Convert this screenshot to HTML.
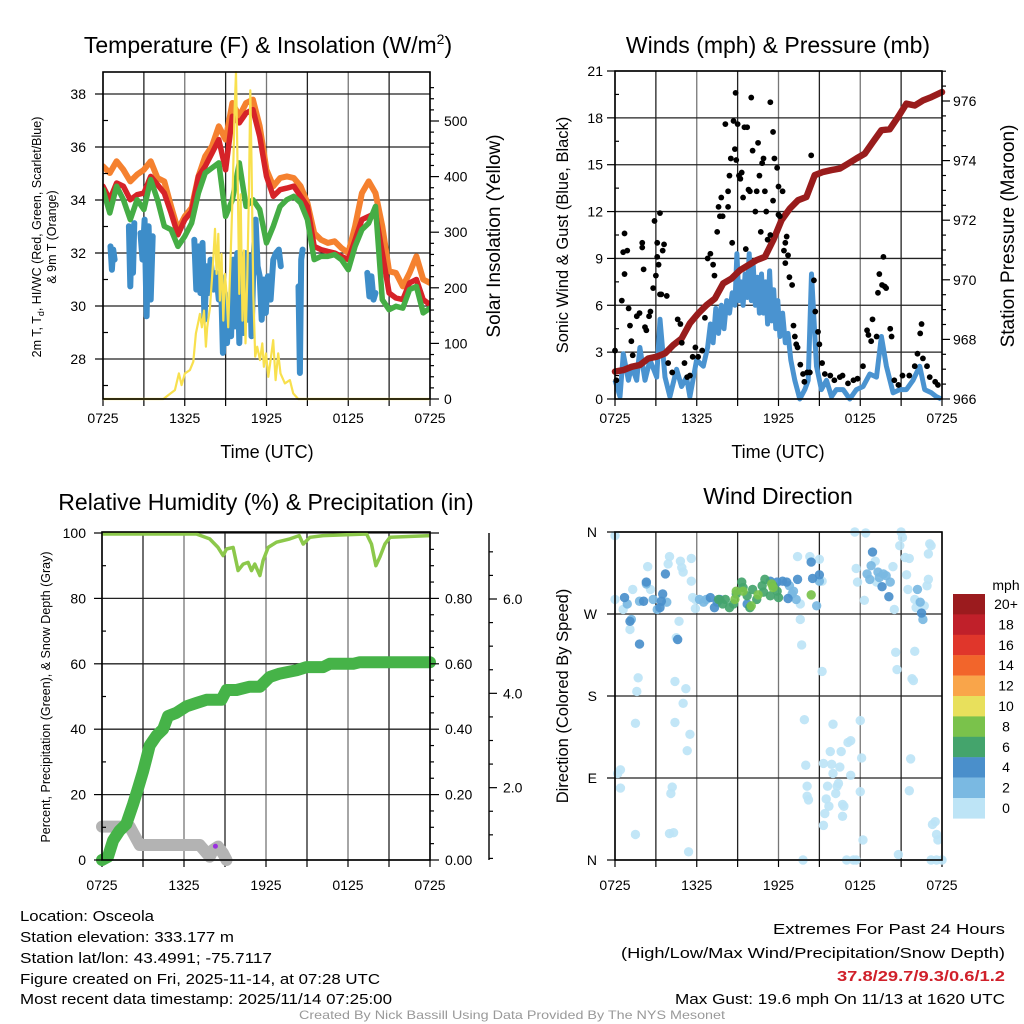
<!DOCTYPE html>
<html><head><meta charset="utf-8"><style>
html,body{margin:0;padding:0;background:#fff;}
svg{display:block;font-family:"Liberation Sans",Arial,sans-serif;}
</style></head><body>
<svg id="fig" width="1024" height="1024" viewBox="0 0 1024 1024" xmlns="http://www.w3.org/2000/svg">
<rect width="1024" height="1024" fill="#fff"/>
<g id="p1"></g>
<g id="p2"></g>
<g id="p3"></g>
<g id="p4"></g>
<g font-size="23" text-anchor="middle" fill="#000">
<text x="268" y="53">Temperature (F) &amp; Insolation (W/m<tspan font-size="14" dy="-9">2</tspan><tspan dy="9">)</tspan></text>
<text x="778" y="53">Winds (mph) &amp; Pressure (mb)</text>
<text x="266" y="510">Relative Humidity (%) &amp; Precipitation (in)</text>
<text x="778" y="504">Wind Direction</text>
</g>
<g font-size="15" fill="#000">
<text x="20" y="921" textLength="134" lengthAdjust="spacingAndGlyphs">Location: Osceola</text>
<text x="20" y="942" textLength="214" lengthAdjust="spacingAndGlyphs">Station elevation: 333.177 m</text>
<text x="20" y="963" textLength="252" lengthAdjust="spacingAndGlyphs">Station lat/lon: 43.4991; -75.7117</text>
<text x="20" y="984" textLength="360" lengthAdjust="spacingAndGlyphs">Figure created on Fri, 2025-11-14, at 07:28 UTC</text>
<text x="20" y="1004" textLength="372" lengthAdjust="spacingAndGlyphs">Most recent data timestamp: 2025/11/14 07:25:00</text>
</g>
<g font-size="15" fill="#000" text-anchor="end">
<text x="1005" y="934" textLength="232" lengthAdjust="spacingAndGlyphs">Extremes For Past 24 Hours</text>
<text x="1005" y="958" textLength="384" lengthAdjust="spacingAndGlyphs">(High/Low/Max Wind/Precipitation/Snow Depth)</text>
<text x="1005" y="981" fill="#d0202a" font-weight="bold" textLength="168" lengthAdjust="spacingAndGlyphs">37.8/29.7/9.3/0.6/1.2</text>
<text x="1005" y="1004" textLength="330" lengthAdjust="spacingAndGlyphs">Max Gust: 19.6 mph On 11/13 at 1620 UTC</text>
</g>
<text x="512" y="1019" font-size="12" fill="#999" text-anchor="middle" textLength="426" lengthAdjust="spacingAndGlyphs">Created By Nick Bassill Using Data Provided By The NYS Mesonet</text>
</svg>
<script>
// ---------- DATA ----------
const xTickLabels = ["0725","1325","1925","0125","0725"];
const halfHours = [0,0.5,1,1.5,2,2.5,3,3.5,4,4.5,5,5.5,6,6.5,7,7.5,8,8.5,9,9.5,10,10.5,11,11.5,12,12.5,13,13.5,14,14.5,15,15.5,16,16.5,17,17.5,18,18.5,19,19.5,20,20.5,21,21.5,22,22.5,23,23.5,24];
const temp9m = [35.27,35.02,35.46,35.14,34.70,34.96,35.14,35.46,34.83,34.70,33.76,32.88,33.38,33.70,34.89,35.65,36.03,36.78,36.28,37.66,37.16,37.66,37.79,36.78,35.14,34.52,34.83,34.89,34.83,34.52,33.89,32.75,32.50,32.38,32.44,32.19,32.00,33.01,34.26,34.70,34.26,33.01,31.31,31.25,30.74,31.25,31.87,31.00,30.87];
const temp2m = [34.52,34.01,34.64,34.52,34.01,34.20,34.26,34.89,34.58,34.26,33.51,32.69,33.26,33.57,34.89,35.27,35.77,36.28,35.14,37.16,36.91,37.28,37.41,36.40,34.89,34.14,34.39,34.45,34.52,34.14,33.76,32.25,32.13,32.06,32.00,31.87,31.75,32.50,33.26,33.38,33.51,32.00,30.49,30.30,30.24,30.87,31.00,30.24,30.05];
const dewpoint = [34.39,33.51,34.52,34.01,33.26,34.01,33.64,34.77,34.01,33.01,32.88,32.25,32.63,33.13,34.26,35.02,35.21,35.40,33.38,34.01,35.40,33.76,34.01,33.64,32.38,33.01,33.76,34.01,34.14,33.89,33.26,31.75,31.87,31.87,31.94,31.75,31.37,32.25,32.88,33.13,33.76,30.24,29.86,29.99,29.92,30.62,30.74,29.74,29.92];
const windChillHours = [0.55,0.65,0.75,0.85,null,1.9,2.0,2.1,2.2,2.3,null,2.75,2.9,3.05,3.2,3.35,3.5,3.65,null,6.7,6.85,7.0,7.15,7.3,7.45,7.6,7.75,7.9,8.1,8.3,8.5,8.65,8.8,8.95,9.1,9.25,9.4,9.55,9.7,9.85,10.0,10.15,10.3,10.45,10.6,10.75,10.9,11.05,11.2,11.35,11.5,11.65,11.8,11.95,12.1,12.3,12.5,12.7,12.9,13.05,null,14.35,14.45,14.55,14.65,null,19.4,19.55,19.7,19.85,20.0];
const windChill = [32.25,31.37,32.13,31.75,null,33.01,30.74,32.75,31.25,33.13,null,32.75,31.75,33.26,29.61,33.01,30.24,32.63,null,32.50,30.62,32.25,30.49,32.38,29.48,31.50,30.49,31.75,30.62,31.25,30.24,31.12,28.23,30.49,28.60,29.74,28.86,31.75,29.23,32.0,28.60,31.87,28.98,32.0,29.48,31.87,28.86,31.75,33.26,31.50,31.12,29.48,31.0,29.74,31.12,30.24,31.75,32.0,32.13,31.5,null,30.74,27.47,31.75,32.13,null,31.25,30.36,31.12,30.24,30.49];
const solarHours = [0,4.43,4.79,5.28,5.57,5.77,6.01,6.38,6.63,6.82,7.02,7.11,7.26,7.41,7.55,7.65,7.85,8.09,8.22,8.34,8.46,8.58,8.70,8.83,8.95,9.07,9.19,9.36,9.51,9.66,9.76,9.85,10.0,10.1,10.24,10.34,10.46,10.59,10.71,10.81,10.90,11.03,11.17,11.32,11.52,11.69,11.81,11.96,12.13,12.30,12.49,12.67,12.86,13.03,13.35,13.72,13.96,14.33,24];
const solar = [0,0,7,16,46,25,46,52,67,118,141,153,129,159,94,129,165,249,306,225,297,177,261,141,225,189,129,249,368,519,588,459,189,368,141,267,100,219,368,555,429,189,76,94,70,100,58,82,40,70,106,34,82,46,28,34,10,0,0];

const pressHours = [0,0.61,1.22,1.83,2.44,3.06,3.67,4.28,4.89,5.50,6.11,6.72,7.33,7.94,8.55,9.17,9.78,10.39,11.0,11.61,12.22,12.83,13.44,14.05,14.66,15.28,15.89,16.5,17.11,17.72,18.33,18.94,19.55,20.16,20.77,21.39,22.0,22.61,23.22,24];
const pressure = [966.92,966.97,967.08,967.14,967.36,967.42,967.53,967.81,968.03,968.54,968.87,969.15,969.37,969.88,970.04,970.32,970.49,970.66,970.77,971.33,972.0,972.39,972.67,972.78,973.51,973.62,973.68,973.73,973.90,974.07,974.23,974.63,975.02,975.05,975.46,975.91,975.85,976.02,976.13,976.30];
const windHours = [0,0.37,0.61,0.98,1.22,1.59,1.83,2.2,2.57,3.06,3.30,3.67,4.03,4.52,4.89,5.25,5.5,5.99,6.48,6.8,7.0,7.2,7.4,7.6,7.8,8.0,8.2,8.4,8.6,8.8,8.95,9.1,9.25,9.4,9.55,9.7,9.85,10.0,10.15,10.3,10.45,10.6,10.75,10.9,11.05,11.2,11.35,11.5,11.65,11.8,11.95,12.1,12.3,12.5,12.7,12.9,13.2,13.56,13.93,14.18,14.42,14.79,15.15,15.52,15.89,16.25,16.74,17.23,17.72,18.21,18.70,19.19,19.55,19.92,20.41,20.90,21.39,21.87,22.36,22.73,23.22,23.59,23.95];
const windSpeed = [1.2,0.15,2.9,1.2,2.1,1.2,3.3,1.2,2.5,1.4,5.1,1.4,0.15,1.9,0.8,1.4,0.15,2.5,2.1,3.3,4.8,3.6,5.8,4.2,6.0,4.5,6.3,5.5,6.8,6.0,9.3,6.3,7.5,6.0,8.0,6.5,9.3,6.3,8.5,6.0,7.8,5.5,8.0,5.5,7.5,4.8,8.2,5.0,7.0,4.5,6.3,4.0,5.5,3.6,4.2,2.5,1.2,0,0.6,1.2,8.0,2.1,0.6,1.2,0.15,0.6,0.6,0,0.6,0.8,1.6,1.4,4.0,2.1,0.4,0.6,0.6,1.2,2.1,0.6,0.4,0.15,0];
const gustHours = [0,0.1,0.5,0.6,0.7,0.7,0.9,1.0,1.1,1.2,1.3,1.6,1.8,2.0,2.0,2.1,2.2,2.3,2.5,2.6,2.8,2.9,3.0,3.1,3.1,3.2,3.3,3.3,3.4,3.5,3.6,3.8,3.9,4.2,4.6,4.8,4.9,5.1,5.3,5.5,5.7,5.9,6.1,6.4,6.6,6.8,7.0,7.2,7.3,7.5,7.6,7.7,7.8,7.9,8.1,8.3,8.3,8.4,8.6,8.7,8.8,8.9,9.0,9.1,9.2,9.4,9.5,9.6,9.7,9.8,9.9,10.0,10.1,10.3,10.4,10.5,10.6,10.7,10.8,10.9,11.0,11.1,11.2,11.4,11.4,11.6,11.6,11.7,11.9,12.0,12.0,12.1,12.3,12.4,12.5,12.5,12.6,12.7,12.8,13.0,13.1,13.2,13.3,13.4,13.6,13.8,13.9,14.1,14.3,14.4,14.6,14.7,14.9,15.0,15.2,15.4,15.8,16.1,16.5,16.7,17.1,17.5,17.8,18.2,18.5,18.6,18.8,18.9,19.2,19.3,19.4,19.6,19.7,19.8,19.9,20.2,20.3,20.5,20.8,21.1,21.6,22.0,22.2,22.4,22.5,22.6,22.9,23.1,23.5,23.7,8.85,8.5,9.3];
const gustSpeed = [3.1,1.2,6.3,9.4,8.0,10.6,9.5,5.8,4.7,3.7,2.8,5.3,5.5,10.0,9.7,8.3,4.6,4.4,5.3,5.6,7.1,11.4,7.9,10.0,9.1,8.6,6.7,11.9,6.7,9.5,9.9,6.6,2.3,1.7,5.1,4.8,3.6,2.3,1.4,1.5,2.7,3.3,2.7,3.1,5.2,9.0,9.3,8.6,7.9,10.7,12.3,11.7,12.9,11.7,17.6,12.3,13.3,14.3,10.0,17.8,16.0,15.3,17.6,14.3,14.1,12.9,17.4,9.6,17.4,13.4,13.3,19.3,15.9,12.0,13.3,16.4,14.3,10.7,15.1,15.4,13.3,12.0,10.2,10.5,19.0,17.1,12.7,15.4,14.8,13.6,11.8,11.7,13.3,9.5,10.0,8.7,10.4,9.2,7.8,7.3,4.7,4.0,3.5,3.3,2.2,1.6,1.1,1.7,1.7,15.6,7.6,5.6,4.3,3.5,2.3,1.6,1.5,1.2,1.4,1.5,1.0,1.2,1.3,2.1,4.4,4.1,3.7,5.1,4.0,6.8,8.0,7.3,9.1,7.2,7.1,4.5,4.0,1.2,0.9,1.5,1.5,2.1,2.9,4.2,4.8,2.6,2.1,1.4,1.1,0.9,19.6,15.4,14.5];

const rhHours = [0,6.91,7.88,8.49,8.86,9.11,9.59,9.96,10.33,10.69,10.94,11.18,11.55,11.79,12.16,12.77,13.74,14.43,14.72,15.21,16.18,19.36,19.72,20.04,20.33,20.70,21.07,24];
const rh = [99.7,99.7,98.2,95.6,93.1,95.1,95.6,88.5,90.5,91.0,88.5,90.5,87.0,91.6,95.6,97.2,98.2,99.2,96.6,98.7,99.2,99.7,96.6,90.0,92.6,96.6,98.7,99.2];
const precipHours = [0,0.44,0.81,1.29,1.78,2.27,2.64,3.0,3.25,3.49,3.98,4.47,4.83,5.44,6.18,6.91,7.64,8.74,9.11,9.84,10.81,11.55,12.28,13.01,14.23,14.96,16.18,16.67,18.38,18.87,24];
const precipIn = [0,0.01,0.06,0.09,0.11,0.17,0.22,0.27,0.31,0.35,0.38,0.40,0.44,0.45,0.47,0.48,0.49,0.49,0.52,0.52,0.53,0.53,0.56,0.57,0.58,0.59,0.59,0.60,0.60,0.605,0.605];
const snowHours = [0,2.03,2.76,7.15,7.88,8.13,8.49,8.86,9.11];
const snowPct = [10.2,10.2,4.6,4.6,1.0,3.1,4.1,2.0,0];

// wind direction [hour, degrees] grouped by speed (mph)
const dirSpeed1 = [[0,356],[0,286],[0.6,275],[1.3,297],[1.1,253],[1.7,200],[1.6,185],[1.5,150],[0.4,99],[0.2,95],[0.4,79],[1.5,28],[2.4,322],[2.6,297],[4.0,333],[3.9,325],[4.8,328],[4.9,321],[5.0,316],[5.6,331],[5.6,306],[5.7,288],[4.7,262],[4.5,244],[4.4,196],[5.2,188],[5.0,172],[4.4,151],[5.5,138],[5.3,120],[4.2,80],[4.1,73],[4.0,29],[4.3,30],[5.4,9],[5.9,276],[5.9,286],[13.4,333],[14.3,333],[15.0,330],[15.2,306],[13.6,281],[13.6,264],[13.7,236],[15.2,207],[13.9,154],[14.0,104],[14.1,81],[14.1,70],[14.2,66],[15.3,106],[15.8,119],[15.9,105],[16.0,95],[16.6,119],[16.5,102],[16.4,84],[16.3,81],[16.2,73],[15.6,81],[15.5,67],[15.7,59],[15.4,51],[15.3,38],[16.7,61],[16.8,59],[16.7,48],[16.0,149],[17.1,129],[17.3,131],[17.3,93],[18.0,75],[18.1,112],[18.0,153],[18.2,22],[13.8,0],[17.0,0],[17.5,0],[17.7,0],[17.6,360],[18.4,359],[17.7,320],[17.8,305],[18.3,285],[19.1,328],[19.2,305],[20.4,322],[20.5,275],[21.4,313],[21.5,297],[21.3,332],[21.6,331],[20.9,345],[21.0,360],[21.1,354],[22.0,286],[22.1,277],[22.7,279],[22.9,301],[23.0,308],[23.0,336],[23.1,347],[23.2,345],[20.6,228],[20.7,209],[22.0,229],[21.8,199],[21.9,197],[21.7,111],[21.6,76],[23.5,42],[23.3,39],[23.6,28],[23.7,22],[20.8,6],[23.2,0],[23.6,0],[24,0]];
const dirSpeed3 = [[0.9,281],[1.2,264],[1.8,284],[2.3,303],[2.8,286],[3.1,275],[3.8,283],[6.2,286],[6.5,283],[6.7,286],[12.8,301],[13.0,292],[13.1,295],[13.3,286],[14.8,279],[15.0,306],[18.8,323],[19.3,316],[19.4,310],[19.7,314],[19.9,312],[20.2,305],[18.5,314],[18.7,308],[22.2,297],[22.4,283],[22.6,264]];
const dirSpeed5 = [[0.7,288],[1.1,262],[1.8,237],[2.1,284],[2.3,305],[3.4,284],[3.5,292],[3.3,277],[3.7,314],[4.6,242],[7.0,288],[7.3,277],[7.5,283],[7.7,286],[9.7,281],[11.4,306],[11.9,305],[12.3,306],[12.6,305],[12.7,287],[13.4,308],[14.4,327],[14.5,309],[15.0,313],[18.9,338],[19.6,300],[20.1,289],[22.5,271]];
const dirSpeed7 = [[7.6,286],[8.1,286],[8.4,277],[8.7,281],[9.3,305],[9.4,299],[9.7,290],[10.1,297],[10.4,286],[10.8,301],[10.9,294],[11.0,308],[11.4,290],[11.6,301],[11.9,295],[12.0,288],[7.9,281],[9.9,277],[8.9,292]];
const dirSpeed9 = [[8.8,286],[8.9,295],[9.4,295],[10.0,279],[10.5,291],[11.5,303],[11.6,299],[14.4,291]];
const cbarLabels = ["20+","18","16","14","12","10","8","6","4","2","0"];
const cbarColors = ["#9b1b1e","#c0202a","#e0362b","#f2652b","#f9a54a","#e8e05c","#7ac24b","#44a46c","#4a8fcb","#7ab9e2","#bde4f6"];

// ---------- helpers ----------
const NS="http://www.w3.org/2000/svg";
function mk(parent,tag,attrs){const e=document.createElementNS(NS,tag);for(const k in attrs)e.setAttribute(k,attrs[k]);parent.appendChild(e);return e;}
function txt(parent,x,y,s,size,anchor,extra){const t=mk(parent,"text",Object.assign({x:x,y:y,"font-size":size,"text-anchor":anchor||"middle",fill:"#000"},extra||{}));t.textContent=s;return t;}
function scale(d0,d1,r0,r1){return v=>r0+(v-d0)/(d1-d0)*(r1-r0);}
function linePath(xs,ys,fx,fy){let d="",pen=false;for(let i=0;i<xs.length;i++){if(xs[i]===null||ys[i]===null){pen=false;continue;}d+=(pen?"L":"M")+fx(xs[i]).toFixed(1)+","+fy(ys[i]).toFixed(1);pen=true;}return d;}
function frame(g,L,R,T,B,vGrid,hGrid){
  const gg=mk(g,"g",{});
  
  
  vGrid.forEach((x,i)=>mk(gg,"line",{x1:x,x2:x,y1:T,y2:B,stroke:i%2?"#222":"#777","stroke-width":1.3}));
  hGrid.forEach(y=>mk(gg,"line",{x1:L,x2:R,y1:y,y2:y,stroke:"#222","stroke-width":1.3}));
}
function box(g,L,R,T,B){const r=mk(g,"rect",{x:L,y:T,width:R-L,height:B-T,fill:"none",stroke:"#000","stroke-width":1.6});}
function xAxis(g,L,R,B,labelY){
  const fx=scale(0,24,L,R);
  const ax=mk(g,"g",{});
  
  
  for(let h=0;h<=24;h+=3){mk(ax,"line",{x1:fx(h),x2:fx(h),y1:B,y2:B+7,stroke:"#000","stroke-width":1.2});}
  xTickLabels.forEach((s,i)=>{const t=txt(ax,fx(i*6),labelY,s,14);});
  return fx;
}

// ---------- Panel 1 ----------
(function(){
  const g=document.getElementById("p1");
  const L=103,R=430,T=72,B=399;
  const fy=scale(28,38,359,94), fs=scale(0,500,399,121);
  const hg=[];for(let v=28;v<=38;v+=2)hg.push(fy(v));
  const vg=[];for(let h=0;h<=24;h+=3)vg.push(L+(R-L)*h/24);
  frame(g,L,R,T,B,vg,hg);
  const fx=xAxis(g,L,R,B,423);
  const clip=mk(g,"clipPath",{id:"c1"});mk(clip,"rect",{x:L,y:T-4,width:R-L,height:B-T+8});
  const pg=mk(g,"g",{"clip-path":"url(#c1)"});
  const series=[[halfHours,temp9m,"#f5812f",6,"temp-9m-line"],[halfHours,temp2m,"#d62328",5.5,"temp-2m-line"],[halfHours,dewpoint,"#45ad45",5.5,"dewpoint-line"],[windChillHours,windChill,"#3d8dc9",6,"wind-chill-line"]];
  series.forEach(s=>{const p=mk(pg,"path",{d:linePath(s[0],s[1],fx,fy),fill:"none",stroke:s[2],"stroke-width":s[3],"stroke-linejoin":"round","stroke-linecap":"round"});});
  const sp=mk(pg,"path",{d:linePath(solarHours,solar,fx,fs),fill:"none",stroke:"#f8e04e","stroke-width":2.2,"stroke-linejoin":"round"});
  
  
  box(g,L,R,T,B);
  const la=mk(g,"g",{});
  
  
  for(let v=27;v<=38;v+=1){mk(la,"line",{x1:v%2?L:L-8,x2:v%2?L+5:L,y1:fy(v),y2:fy(v),stroke:"#000","stroke-width":1.2});}
  for(let v=28;v<=38;v+=2)txt(la,86,fy(v)+5,String(v),14,"end");
  const ra=mk(g,"g",{});
  
  
  for(let v=0;v<=560;v+=20){const maj=v%100===0;mk(ra,"line",{x1:R,x2:R+(maj?9:4),y1:fs(v),y2:fs(v),stroke:"#000","stroke-width":1.2});if(maj)txt(ra,444,fs(v)+5,String(v),14,"start");}
  const xl=txt(g,267,458,"Time (UTC)",18);
  const yl=mk(g,"text",{transform:"translate(41,237) rotate(-90)","font-size":12.5,"text-anchor":"middle"});
  
  yl.innerHTML='2m T, T<tspan font-size="9" dy="3">d</tspan><tspan dy="-3">, HI/WC (Red, Green, Scarlet/Blue)</tspan>';
  const yl2=txt(g,0,0,"& 9m T (Orange)",12.5,"middle",{transform:"translate(56,237) rotate(-90)"});
  
  const yr=txt(g,0,0,"Solar Insolation (Yellow)",19,"middle",{transform:"translate(500,236) rotate(-90)"});
  
})();

// ---------- Panel 2 ----------
(function(){
  const g=document.getElementById("p2");
  const L=615,R=942,T=71,B=399;
  const fy=scale(0,21,399,71), fp=scale(966,976,399,101);
  const hg=[];for(let v=0;v<=21;v+=3)hg.push(fy(v));
  const vg=[];for(let h=0;h<=24;h+=3)vg.push(L+(R-L)*h/24);
  frame(g,L,R,T,B,vg,hg);
  const fx=xAxis(g,L,R,B,423);
  const wp=mk(g,"path",{d:linePath(windHours,windSpeed,fx,fy),fill:"none",stroke:"#4a93d0","stroke-width":5,"stroke-linejoin":"round"});
  
  const pp=mk(g,"path",{d:linePath(pressHours,pressure,fx,fp),fill:"none",stroke:"#991c1c","stroke-width":6.5,"stroke-linejoin":"round","stroke-linecap":"round"});
  
  const dg=mk(g,"g",{});
  
  gustHours.forEach((h,i)=>{const c=mk(dg,"circle",{cx:fx(h),cy:fy(gustSpeed[i]),r:2.9,fill:"#000"});});
  box(g,L,R,T,B);
  const la=mk(g,"g",{});
  
  for(let v=0;v<=21;v+=1.5){const maj=v%3===0;mk(la,"line",{x1:maj?L-8:L,x2:maj?L:L+4,y1:fy(v),y2:fy(v),stroke:"#000","stroke-width":1.2});if(maj)txt(la,603,fy(v)+5,String(v),14,"end");}
  const ra=mk(g,"g",{});
  
  for(let v=966;v<=977;v+=0.5){const maj=v%2===0;mk(ra,"line",{x1:R,x2:R+(maj?8:4),y1:fp(v),y2:fp(v),stroke:"#000","stroke-width":1.2});if(maj)txt(ra,953,fp(v)+5,String(v),14,"start");}
  const xl=txt(g,778,458,"Time (UTC)",18);
  const yl=txt(g,0,0,"Sonic Wind & Gust (Blue, Black)",16.5,"middle",{transform:"translate(568,235) rotate(-90)"});
  
  const yr=txt(g,0,0,"Station Pressure (Maroon)",19,"middle",{transform:"translate(1014,236) rotate(-90)"});
  
})();

// ---------- Panel 3 ----------
(function(){
  const g=document.getElementById("p3");
  const L=102,R=430,T=532,B=860;
  const fy=scale(0,100,860,533);
  const hg=[];for(let v=0;v<=100;v+=20)hg.push(fy(v));
  const vg=[];for(let h=0;h<=24;h+=3)vg.push(L+(R-L)*h/24);
  frame(g,L,R,T,B,vg,hg);
  const fx=xAxis(g,L,R,B,890);
  const sn=mk(g,"path",{d:linePath(snowHours,snowPct,fx,fy),fill:"none",stroke:"#b3b3b3","stroke-width":12,"stroke-linejoin":"round","stroke-linecap":"round"});
  
  const pr=mk(g,"path",{d:linePath(precipHours,precipIn.map(v=>v*100),fx,fy),fill:"none",stroke:"#46b348","stroke-width":12,"stroke-linejoin":"round","stroke-linecap":"round"});
  
  const rp=mk(g,"path",{d:linePath(rhHours,rh,fx,fy),fill:"none",stroke:"#8cc84b","stroke-width":3.5,"stroke-linejoin":"round"});
  
  const pd=mk(g,"circle",{cx:fx(8.3),cy:fy(4.2),r:2.5,fill:"#9b30e0"});
  
  box(g,L,R,T,B);
  const la=mk(g,"g",{});
  
  for(let v=0;v<=100;v+=10){const maj=v%20===0;mk(la,"line",{x1:maj?L-8:L,x2:maj?L:L+4,y1:fy(v),y2:fy(v),stroke:"#000","stroke-width":1.2});if(maj)txt(la,86,fy(v)+5,String(v),14,"end");}
  const ra=mk(g,"g",{});
  
  for(let v=0;v<=100;v+=5){const maj=v%20===0;mk(ra,"line",{x1:R,x2:R+(maj?9:4),y1:fy(v),y2:fy(v),stroke:"#000","stroke-width":1.2});if(maj&&v<100)txt(ra,445,fy(v)+5,(v/100).toFixed(2),14,"start");}
  const sa=mk(g,"g",{});
  
  const fsn=scale(0,6,882,599);
  mk(sa,"line",{x1:489,x2:489,y1:533,y2:860,stroke:"#000","stroke-width":1.4});
  for(let v=0.5;v<=7;v+=0.5){const y=fsn(v);if(y<533||y>860)continue;const maj=v%2===0;mk(sa,"line",{x1:489,x2:489+(maj?8:4),y1:y,y2:y,stroke:"#000","stroke-width":1.2});if(maj)txt(sa,503,y+5,v.toFixed(1),14,"start");}
  const yl=txt(g,0,0,"Percent, Precipitation (Green), & Snow Depth (Gray)",12.5,"middle",{transform:"translate(50,697) rotate(-90)"});
  
})();

// ---------- Panel 4 ----------
(function(){
  const g=document.getElementById("p4");
  const L=615,R=942,T=532,B=860;
  const fy=scale(0,360,860,532);
  const hg=[];for(let v=0;v<=360;v+=90)hg.push(fy(v));
  const vg=[];for(let h=0;h<=24;h+=3)vg.push(L+(R-L)*h/24);
  frame(g,L,R,T,B,vg,hg);
  const fx=xAxis(g,L,R,B,890);
  const groups=[[dirSpeed1,"#bde4f6"],[dirSpeed3,"#7ab9e2"],[dirSpeed5,"#4a8fcb"],[dirSpeed7,"#44a46c"],[dirSpeed9,"#7ac24b"]];
  groups.forEach(gr=>{const gg=mk(g,"g",{});
    gr[0].forEach(p=>{const c=mk(gg,"circle",{cx:fx(p[0]),cy:fy(p[1]),r:4.7,fill:gr[1],"fill-opacity":0.92});});});
  box(g,L,R,T,B);
  const la=mk(g,"g",{});
  
  ["N","E","S","W","N"].forEach((s,i)=>{const y=fy(i*90);mk(la,"line",{x1:L-8,x2:L,y1:y,y2:y,stroke:"#000","stroke-width":1.2});txt(la,597,y+5,s,14,"end");});
  const yl=txt(g,0,0,"Direction (Colored By Speed)",16.5,"middle",{transform:"translate(568,696) rotate(-90)"});
  
  const cb=mk(g,"g",{});
  
  const u=txt(cb,1006,590,"mph",14);
  cbarColors.forEach((c,i)=>{const y=594+i*20.4;const r=mk(cb,"rect",{x:953,y:y,width:32,height:20.6,fill:c});
    const t=txt(cb,1006,y+15,cbarLabels[i],14);});
})();
</script>
</body></html>
